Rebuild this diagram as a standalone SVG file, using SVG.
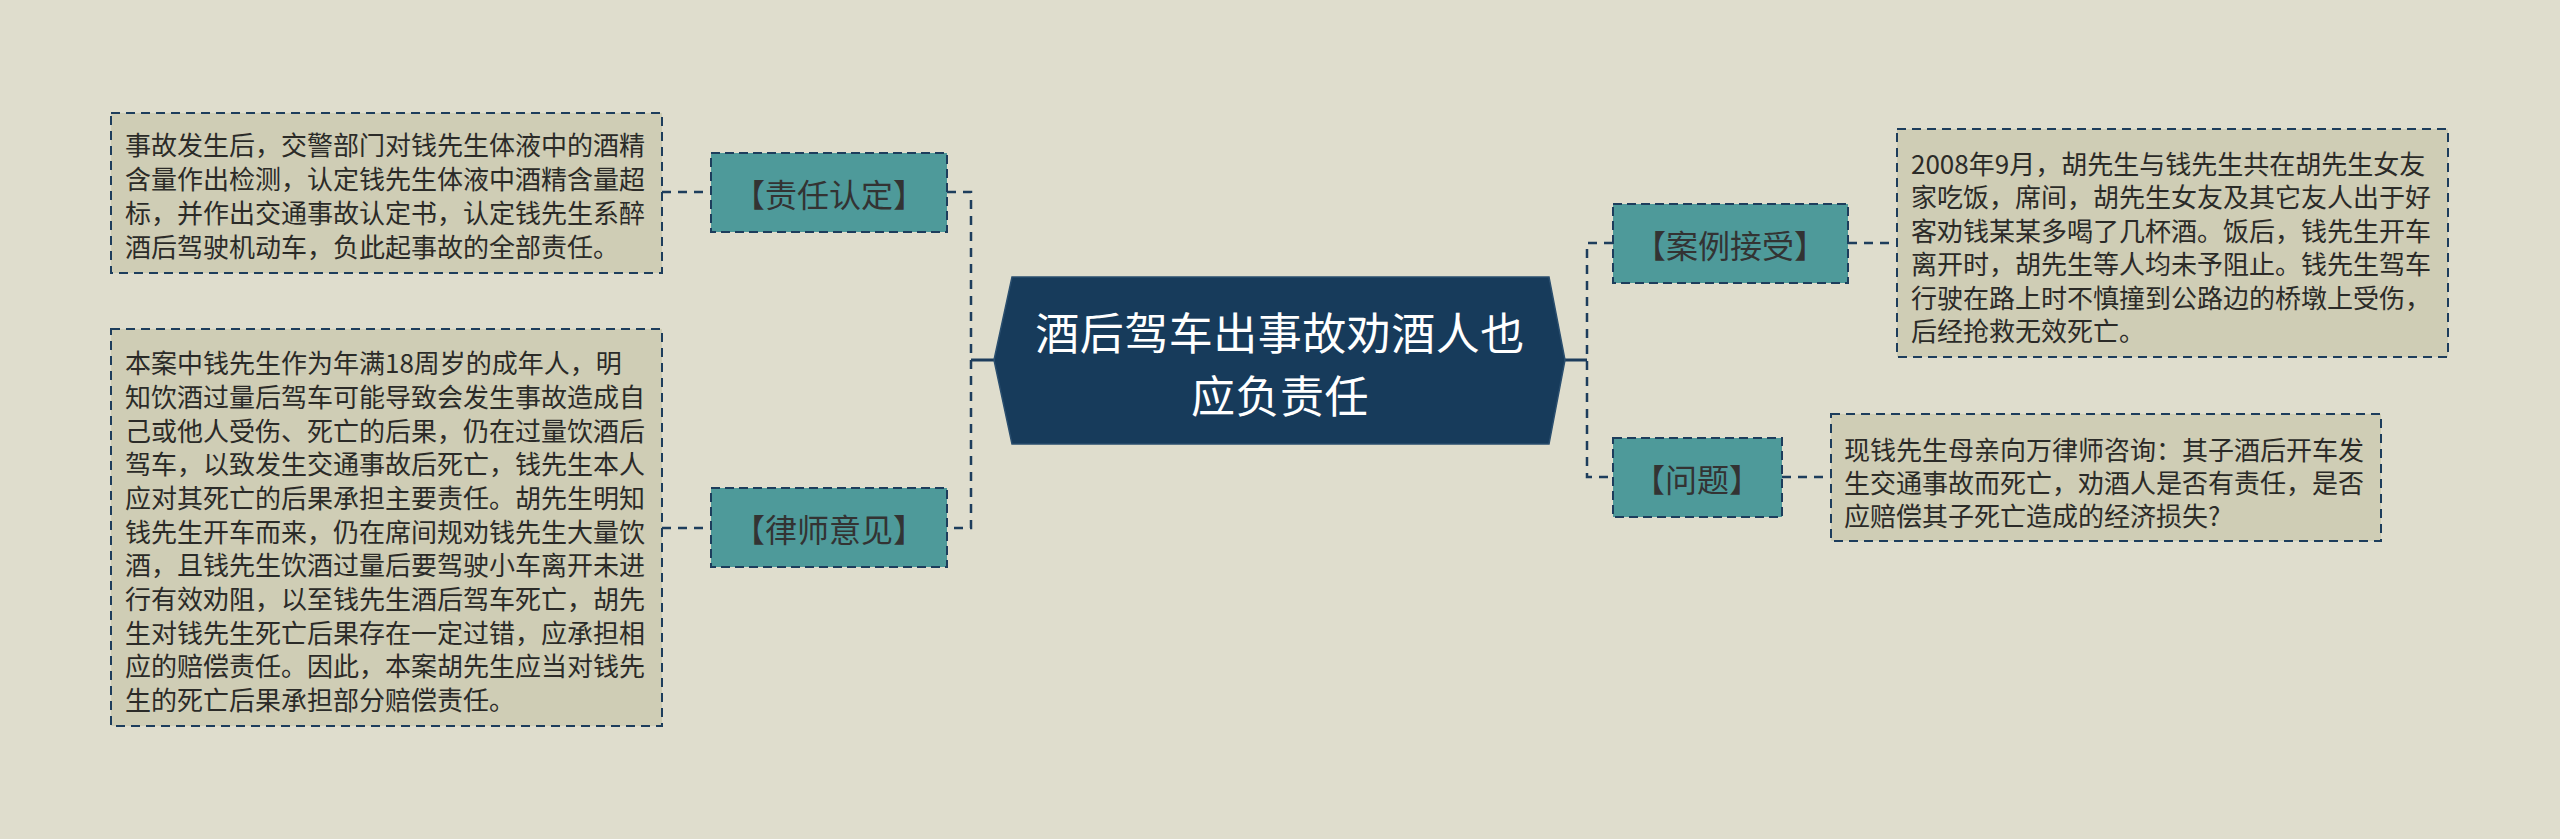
<svg xmlns="http://www.w3.org/2000/svg" width="2560" height="839" viewBox="0 0 2560 839">
<style>
.bg{fill:#DFDDCD}
.txtbox{fill:#CFCDB5;stroke:#1D3D5C;stroke-width:2;stroke-dasharray:9 6}
.topic{fill:#4E9A9A;stroke:#1D3D5C;stroke-width:2;stroke-dasharray:9 5}
.conn{fill:none;stroke:#1D3D5C;stroke-width:2.5;stroke-dasharray:9 7}
.solid{fill:none;stroke:#1D3D5C;stroke-width:3}
.body{font-family:"Noto Sans CJK SC","Noto Sans",sans-serif;font-size:26px;fill:#2B2B28;dominant-baseline:central}
.label{font-family:"Noto Sans CJK SC","Noto Sans",sans-serif;font-size:32px;fill:#333333;text-anchor:middle;dominant-baseline:central}
.main{font-family:"Noto Sans CJK SC","Noto Sans",sans-serif;font-size:44px;fill:#FFFFFF;text-anchor:middle;dominant-baseline:central;letter-spacing:0.5px}
</style>
<rect class="bg" x="0" y="0" width="2560" height="839"/>
<g id="connectors">
<path class="conn" d="M947,192 H971 V528 H947"/>
<path class="solid" d="M971,360 H994"/>
<path class="conn" d="M662,192 H711"/>
<path class="conn" d="M662,528 H711"/>
<path class="conn" d="M1613,243 H1587 V477 H1613"/>
<path class="solid" d="M1565,360 H1587"/>
<path class="conn" d="M1848,243 H1897"/>
<path class="conn" d="M1782,477 H1831"/>
</g>
<g id="center">
<polygon points="994,360 1012,277 1549,277 1565,360 1549,444 1012,444" fill="#173B5B" stroke="#2A4E6E" stroke-width="1.5"/>
<text class="main" x="1280" y="331">酒后驾车出事故劝酒人也</text>
<text class="main" x="1280" y="394">应负责任</text>
</g>
<g id="node-zrrd">
<rect class="topic" x="711" y="153" width="236" height="79"/>
<text class="label" x="829" y="193">【责任认定】</text>
</g>
<g id="node-lsyj">
<rect class="topic" x="711" y="488" width="236" height="79"/>
<text class="label" x="829" y="528">【律师意见】</text>
</g>
<g id="node-aljs">
<rect class="topic" x="1613" y="204" width="235" height="79"/>
<text class="label" x="1730" y="244">【案例接受】</text>
</g>
<g id="node-wt">
<rect class="topic" x="1613" y="438" width="169" height="79"/>
<text class="label" x="1697" y="478">【问题】</text>
</g>
<g id="text-zrrd">
<rect class="txtbox" x="111" y="113" width="551" height="160"/>
<text class="body" x="125" y="143">事故发生后，交警部门对钱先生体液中的酒精</text>
<text class="body" x="125" y="177">含量作出检测，认定钱先生体液中酒精含量超</text>
<text class="body" x="125" y="211">标，并作出交通事故认定书，认定钱先生系醉</text>
<text class="body" x="125" y="245">酒后驾驶机动车，负此起事故的全部责任。</text>
</g>
<g id="text-lsyj">
<rect class="txtbox" x="111" y="329" width="551" height="397"/>
<text class="body" x="125" y="361">本案中钱先生作为年满18周岁的成年人，明</text>
<text class="body" x="125" y="395">知饮酒过量后驾车可能导致会发生事故造成自</text>
<text class="body" x="125" y="429">己或他人受伤、死亡的后果，仍在过量饮酒后</text>
<text class="body" x="125" y="462">驾车，以致发生交通事故后死亡，钱先生本人</text>
<text class="body" x="125" y="496">应对其死亡的后果承担主要责任。胡先生明知</text>
<text class="body" x="125" y="530">钱先生开车而来，仍在席间规劝钱先生大量饮</text>
<text class="body" x="125" y="563">酒，且钱先生饮酒过量后要驾驶小车离开未进</text>
<text class="body" x="125" y="597">行有效劝阻，以至钱先生酒后驾车死亡，胡先</text>
<text class="body" x="125" y="631">生对钱先生死亡后果存在一定过错，应承担相</text>
<text class="body" x="125" y="664">应的赔偿责任。因此，本案胡先生应当对钱先</text>
<text class="body" x="125" y="698">生的死亡后果承担部分赔偿责任。</text>
</g>
<g id="text-aljs">
<rect class="txtbox" x="1897" y="129" width="551" height="228"/>
<text class="body" x="1911" y="162">2008年9月，胡先生与钱先生共在胡先生女友</text>
<text class="body" x="1911" y="195">家吃饭，席间，胡先生女友及其它友人出于好</text>
<text class="body" x="1911" y="229">客劝钱某某多喝了几杯酒。饭后，钱先生开车</text>
<text class="body" x="1911" y="262">离开时，胡先生等人均未予阻止。钱先生驾车</text>
<text class="body" x="1911" y="296">行驶在路上时不慎撞到公路边的桥墩上受伤，</text>
<text class="body" x="1911" y="329">后经抢救无效死亡。</text>
</g>
<g id="text-wt">
<rect class="txtbox" x="1831" y="414" width="550" height="127"/>
<text class="body" x="1844" y="448">现钱先生母亲向万律师咨询：其子酒后开车发</text>
<text class="body" x="1844" y="481">生交通事故而死亡，劝酒人是否有责任，是否</text>
<text class="body" x="1844" y="514">应赔偿其子死亡造成的经济损失?</text>
</g>
</svg>
